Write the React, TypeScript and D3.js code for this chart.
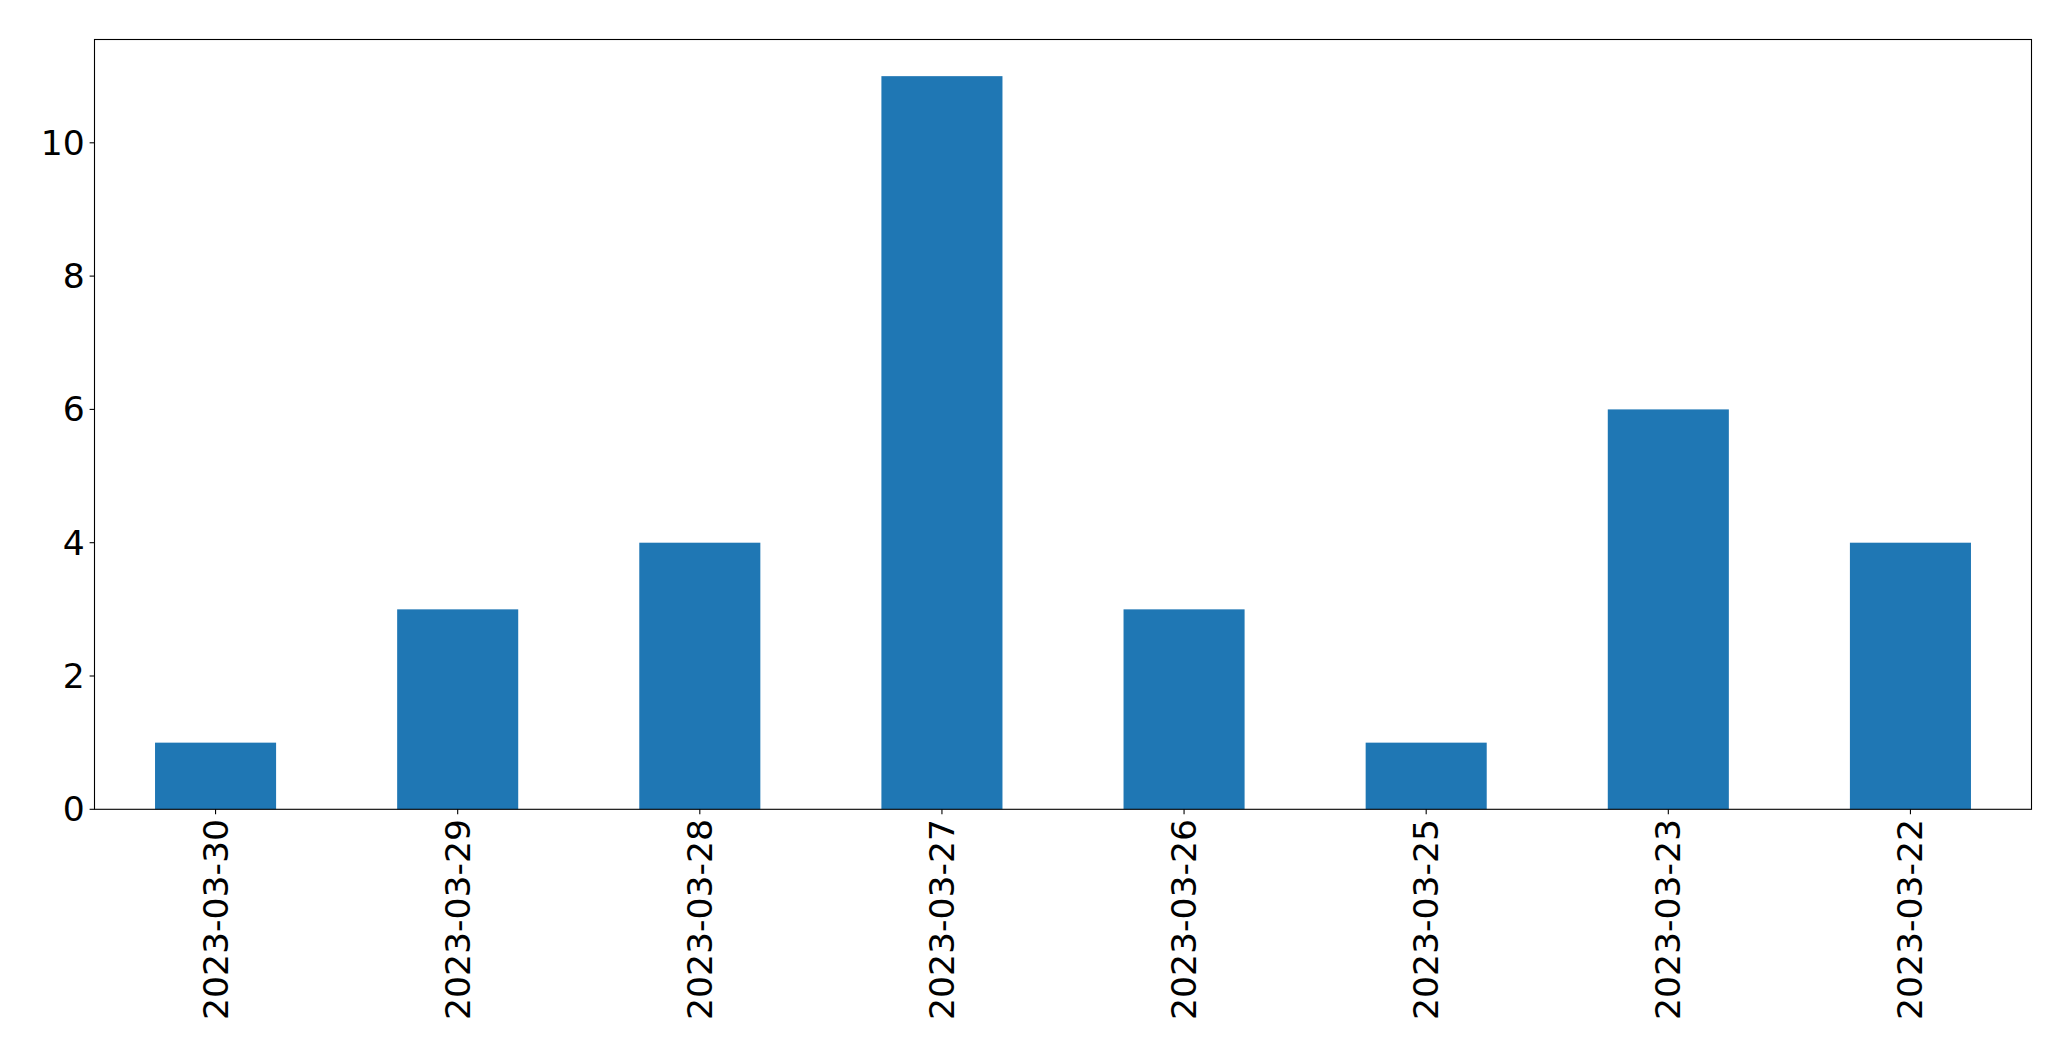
import React from "react";
import * as d3 from "d3";

const categories: string[] = [
  "2023-03-30",
  "2023-03-29",
  "2023-03-28",
  "2023-03-27",
  "2023-03-26",
  "2023-03-25",
  "2023-03-23",
  "2023-03-22",
];
const values: number[] = [1, 3, 4, 11, 3, 1, 6, 4];
const yTicks: number[] = [0, 2, 4, 6, 8, 10];

const W = 2071;
const H = 1061;
const left = 94.5;
const right = 2031.5;
const top = 39.5;
const bottom = 809.3;
const fontSize = 34.6;
const tickLen = 4.9;
const pad = 4.9;

export default function App() {
  const x = d3
    .scaleLinear()
    .domain([-0.5, categories.length - 0.5])
    .range([left, right]);
  const yMax = d3.max(values)! * 1.05;
  const y = d3.scaleLinear().domain([0, yMax]).range([bottom, top]);
  const barW = 0.5;

  return (
    <svg
      width={W}
      height={H}
      style={{ position: "absolute", left: 0, top: 0, background: "#fff" }}
      fontFamily="DejaVu Sans"
    >
      <rect x={0} y={0} width={W} height={H} fill="#fff" />
      {values.map((v, i) => (
        <rect
          key={i}
          x={x(i - barW / 2)}
          y={y(v)}
          width={x(i + barW / 2) - x(i - barW / 2)}
          height={y(0) - y(v)}
          fill="#1f77b4"
        />
      ))}
      <rect
        x={left}
        y={top}
        width={right - left}
        height={bottom - top}
        fill="none"
        stroke="#000"
        strokeWidth={1.1}
      />
      {yTicks.map((t) => (
        <g key={t}>
          <line
            x1={left - tickLen}
            x2={left}
            y1={y(t)}
            y2={y(t)}
            stroke="#000"
            strokeWidth={1.1}
          />
          <text
            x={left - tickLen - pad}
            y={y(t)}
            textAnchor="end"
            dominantBaseline="central"
            fontSize={fontSize}
            fill="#000"
          >
            {t}
          </text>
        </g>
      ))}
      {categories.map((c, i) => (
        <g key={c}>
          <line
            x1={x(i)}
            x2={x(i)}
            y1={bottom}
            y2={bottom + tickLen}
            stroke="#000"
            strokeWidth={1.1}
          />
          <text
            transform={`translate(${x(i)},${bottom + tickLen + pad}) rotate(-90)`}
            textAnchor="end"
            dominantBaseline="central"
            fontSize={fontSize}
            fill="#000"
          >
            {c}
          </text>
        </g>
      ))}
    </svg>
  );
}
